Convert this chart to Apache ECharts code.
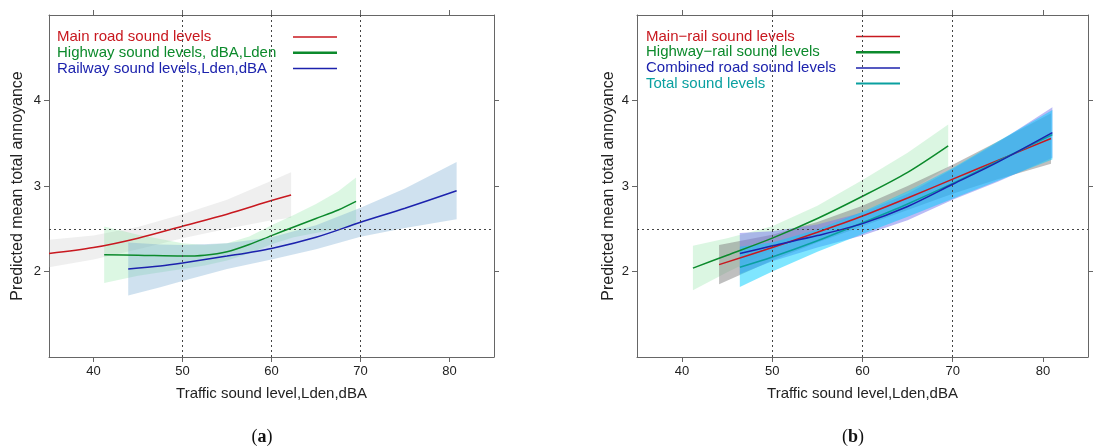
<!DOCTYPE html>
<html>
<head>
<meta charset="utf-8">
<script src="https://cdn.jsdelivr.net/npm/echarts@6/dist/echarts.min.js"></script>
<style>
  html, body { margin: 0; padding: 0; background: #fff; }
  #chart { width: 1113px; height: 448px; }
</style>
</head>
<body>
<div id="chart"></div>
<script>
// ---- axis settings ----
const xTicks = [40, 50, 60, 70, 80];
const yTicks = [2, 3, 4];
const refX = [50, 60, 70];
const refY = 2.5;
const xTitle = 'Traffic sound level,Lden,dBA';
const yTitle = 'Predicted mean total annoyance';

// ---- panel (a): single-source exposure ----
const mainRoadX    = [35, 40, 45, 50, 55, 60, 62.2];
const mainRoadFit  = [2.21, 2.28, 2.39, 2.53, 2.67, 2.83, 2.895];
const mainRoadLow  = [2.05, 2.14, 2.26, 2.39, 2.50, 2.60, 2.63];
const mainRoadHigh = [2.37, 2.42, 2.52, 2.67, 2.84, 3.06, 3.16];

const highwayX    = [41.2, 45, 50, 52.5, 55, 57.5, 60, 62.5, 65, 67.5, 69.5];
const highwayFit  = [2.195, 2.19, 2.18, 2.19, 2.23, 2.315, 2.42, 2.52, 2.62, 2.72, 2.82];
const highwayLow  = [1.865, 1.95, 2.03, 2.07, 2.13, 2.21, 2.32, 2.40, 2.45, 2.50, 2.54];
const highwayHigh = [2.525, 2.43, 2.33, 2.31, 2.33, 2.41, 2.54, 2.66, 2.79, 2.94, 3.10];

const railwayX    = [43.9, 47.5, 50, 55, 60, 65, 70, 75, 80.8];
const railwayFit  = [2.03, 2.065, 2.10, 2.18, 2.27, 2.40, 2.575, 2.74, 2.945];
const railwayLow  = [1.72, 1.815, 1.89, 2.03, 2.14, 2.26, 2.405, 2.51, 2.61];
const railwayHigh = [2.34, 2.315, 2.31, 2.33, 2.40, 2.54, 2.745, 2.97, 3.28];

// ---- panel (b): combined exposure ----
const hwRailX    = [41.2, 45, 50, 55, 60, 65, 69.5];
const hwRailFit  = [2.04, 2.19, 2.39, 2.62, 2.88, 3.16, 3.47];
const hwRailLow  = [1.78, 1.99, 2.25, 2.47, 2.69, 2.93, 3.22];
const hwRailHigh = [2.30, 2.39, 2.53, 2.77, 3.07, 3.39, 3.72];

const mainRailX    = [44.1, 50, 55, 60, 65, 70, 75, 80.9];
const mainRailFit  = [2.08, 2.28, 2.46, 2.65, 2.86, 3.08, 3.30, 3.555];
const mainRailLow  = [1.85, 2.13, 2.34, 2.53, 2.72, 2.91, 3.08, 3.26];
const mainRailHigh = [2.31, 2.43, 2.58, 2.77, 3.00, 3.25, 3.52, 3.85];

const roadX    = [46.4, 50, 55, 60, 65, 70, 75, 81.05];
const roadFit  = [2.21, 2.30, 2.42, 2.56, 2.76, 3.02, 3.28, 3.625];
const roadLow  = [1.97, 2.12, 2.28, 2.42, 2.60, 2.84, 3.05, 3.33];
const roadHigh = [2.45, 2.47, 2.55, 2.69, 2.91, 3.20, 3.51, 3.92];

const totalX    = [46.4, 50, 55, 60, 65, 70, 75, 81.05];
const totalFit  = [2.05, 2.17, 2.36, 2.57, 2.79, 3.03, 3.29, 3.60];
const totalLow  = [1.82, 2.00, 2.23, 2.44, 2.64, 2.85, 3.06, 3.31];
const totalHigh = [2.29, 2.34, 2.49, 2.70, 2.94, 3.21, 3.52, 3.89];

// ---- styling ----
const FONT = 'Liberation Sans, Arial, sans-serif';
const AXIS_COLOR = '#666';
const TEXT_COLOR = '#222';
const RED = '#c8181f', GREEN = '#0c8a2c', BLUE = '#1c22ad', TEAL = '#0aa0a0';

const grids = [
  { left: 49, top: 15, width: 445, height: 342 },
  { left: 637, top: 15, width: 451, height: 342 }
];

function axesFor(g, nameGapY) {
  const line = { show: true, onZero: false, lineStyle: { color: AXIS_COLOR, width: 1 } };
  const tick = (vals) => ({ show: true, length: 5, customValues: vals, lineStyle: { color: AXIS_COLOR, width: 1 } });
  const x = [
    {
      gridIndex: g, type: 'value', min: 35, max: 85, position: 'bottom',
      name: xTitle, nameLocation: 'middle', nameGap: 29,
      nameTextStyle: { fontSize: 15, color: TEXT_COLOR, fontFamily: FONT },
      axisLine: line, axisTick: tick(xTicks),
      axisLabel: { customValues: xTicks, fontSize: 13, color: TEXT_COLOR, fontFamily: FONT, margin: 8 },
      splitLine: { show: false }
    },
    {
      gridIndex: g, type: 'value', min: 35, max: 85, position: 'top',
      axisLine: line, axisTick: tick(xTicks),
      axisLabel: { show: false }, splitLine: { show: false }
    }
  ];
  const y = [
    {
      gridIndex: g, type: 'value', min: 1, max: 5, position: 'left',
      name: yTitle, nameLocation: 'middle', nameGap: nameGapY,
      nameTextStyle: { fontSize: 16, color: TEXT_COLOR, fontFamily: FONT },
      axisLine: line, axisTick: tick(yTicks),
      axisLabel: { customValues: yTicks, fontSize: 13, color: TEXT_COLOR, fontFamily: FONT, margin: 8 },
      splitLine: { show: false }
    },
    {
      gridIndex: g, type: 'value', min: 1, max: 5, position: 'right',
      axisLine: line, axisTick: tick(yTicks),
      axisLabel: { show: false }, splitLine: { show: false }
    }
  ];
  return { x, y };
}

const a0 = axesFor(0, 23.5);
const a1 = axesFor(1, 20);

// confidence band drawn as one polygon through the axis scales
function band(name, axisIdx, xs, low, high, fill) {
  return {
    type: 'custom', name: name, xAxisIndex: axisIdx, yAxisIndex: axisIdx,
    silent: true, z: 1,
    data: xs.map((x, i) => [x, low[i], high[i]]),
    encode: { x: 0, y: [1, 2] },
    renderItem: function (params, api) {
      if (params.dataIndexInside !== 0) return null;
      const pts = [];
      for (let i = 0; i < xs.length; i++) pts.push(api.coord([xs[i], high[i]]));
      for (let i = xs.length - 1; i >= 0; i--) pts.push(api.coord([xs[i], low[i]]));
      return { type: 'polygon', shape: { points: pts }, style: { fill: fill } };
    }
  };
}

function fitLine(name, axisIdx, xs, ys, color, extra) {
  return Object.assign({
    type: 'line', name: name, xAxisIndex: axisIdx, yAxisIndex: axisIdx,
    data: xs.map((x, i) => [x, ys[i]]),
    symbol: 'none', smooth: 0.3, silent: true, z: 3,
    lineStyle: { color: color, width: 1.5 }, itemStyle: { color: color }
  }, extra || {});
}

function refLines() {
  return {
    silent: true, symbol: 'none', label: { show: false },
    lineStyle: { color: '#444', type: [2, 3], width: 1 },
    data: refX.map(v => ({ xAxis: v })).concat([{ yAxis: refY }])
  };
}

// horizontal stroke used as the key swatch
function stroke(w) {
  return 'path://M0,0L44,0L44,' + w + 'L0,' + w + 'Z';
}

function legendFor(left, top, width, items) {
  return {
    left: left, top: top, padding: 0, orient: 'vertical', align: 'right',
    itemWidth: 44, itemHeight: 14, itemGap: 0.7, selectedMode: false,
    formatter: n => '{t|' + n + '}',
    textStyle: { fontSize: 15, fontFamily: FONT, rich: { t: { width: width, align: 'left', fontSize: 15, lineHeight: 14, fontFamily: FONT } } },
    data: items.map(it => ({ name: it[0], icon: stroke(it[2]), textStyle: { color: it[1] }, itemStyle: { color: it[1] } }))
  };
}

const option = {
  animation: false,
  backgroundColor: '#ffffff',
  grid: grids,
  xAxis: a0.x.concat(a1.x),
  yAxis: a0.y.concat(a1.y),
  legend: [
    legendFor(57, 29.5, 231, [
      ['Main road sound levels', RED, 1.5],
      ['Highway sound levels, dBA,Lden', GREEN, 2.5],
      ['Railway sound levels,Lden,dBA', BLUE, 1.5]
    ]),
    legendFor(646, 29, 205, [
      ['Main\u2212rail sound levels', RED, 1.5],
      ['Highway\u2212rail sound levels', GREEN, 2.5],
      ['Combined road sound levels', BLUE, 1.5],
      ['Total sound levels', TEAL, 2]
    ])
  ],
  graphic: [
    { type: 'text', x: 262, y: 437, style: { text: '({b|a})', fontSize: 18, fontFamily: 'Liberation Serif, serif', fill: '#111', textAlign: 'center', textVerticalAlign: 'middle', rich: { b: { fontWeight: 'bold', fontSize: 18, fontFamily: 'Liberation Serif, serif' } } } },
    { type: 'text', x: 853, y: 437, style: { text: '({b|b})', fontSize: 18, fontFamily: 'Liberation Serif, serif', fill: '#111', textAlign: 'center', textVerticalAlign: 'middle', rich: { b: { fontWeight: 'bold', fontSize: 18, fontFamily: 'Liberation Serif, serif' } } } }
  ],
  series: [
    // panel (a)
    band('Main road band', 0, mainRoadX, mainRoadLow, mainRoadHigh, 'rgba(190,190,190,0.25)'),
    band('Highway band', 0, highwayX, highwayLow, highwayHigh, 'rgba(110,220,140,0.24)'),
    band('Railway band', 0, railwayX, railwayLow, railwayHigh, 'rgba(110,165,205,0.33)'),
    fitLine('Main road sound levels', 0, mainRoadX, mainRoadFit, RED, { markLine: refLines() }),
    fitLine('Highway sound levels, dBA,Lden', 0, highwayX, highwayFit, GREEN),
    fitLine('Railway sound levels,Lden,dBA', 0, railwayX, railwayFit, BLUE),
    // panel (b)
    band('Highway-rail band', 2, hwRailX, hwRailLow, hwRailHigh, 'rgba(110,220,140,0.25)'),
    band('Main-rail band', 2, mainRailX, mainRailLow, mainRailHigh, 'rgba(128,128,128,0.5)'),
    band('Combined road band', 2, roadX, roadLow, roadHigh, 'rgba(120,120,235,0.5)'),
    band('Total band', 2, totalX, totalLow, totalHigh, 'rgba(0,205,255,0.5)'),
    fitLine('Highway\u2212rail sound levels', 2, hwRailX, hwRailFit, GREEN, { markLine: refLines() }),
    fitLine('Main\u2212rail sound levels', 2, mainRailX, mainRailFit, RED),
    fitLine('Total sound levels', 2, totalX, totalFit, TEAL),
    fitLine('Combined road sound levels', 2, roadX, roadFit, BLUE)
  ]
};

const chart = echarts.init(document.getElementById('chart'), null, { renderer: 'canvas' });
chart.setOption(option);
</script>
</body>
</html>
